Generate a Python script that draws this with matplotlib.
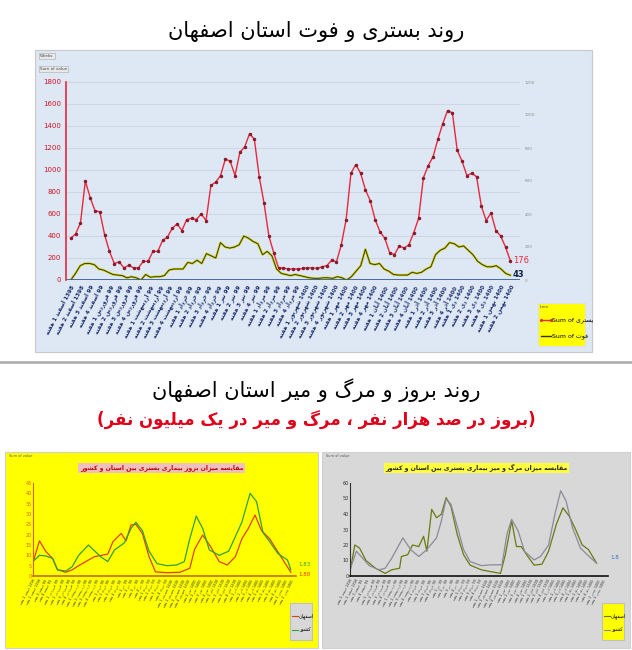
import unicodedata

import matplotlib
matplotlib.use("Agg")
import numpy as np
from matplotlib import pyplot as plt
from matplotlib.patches import Rectangle
from matplotlib.lines import Line2D

plt.rcParams["font.family"] = ["DejaVu Sans"]

W, H = 632, 650

# top chart: weekly hospitalised (red) and deaths (olive)
hosp = [380, 420, 520, 900, 750, 630, 620, 410, 260, 150, 165, 110, 135, 110, 110, 170, 170, 260,
        260, 360, 390, 470, 510, 450, 550, 560, 550, 600, 540, 860, 890, 950, 1100, 1080, 950, 1160,
        1210, 1330, 1280, 940, 700, 400, 250, 110, 110, 100, 100, 100, 105, 110, 110, 105, 120, 130,
        180, 165, 320, 550, 970, 1050, 970, 820, 720, 550, 440, 380, 250, 230, 310, 290, 320, 430,
        560, 930, 1040, 1120, 1280, 1420, 1540, 1520, 1180, 1080, 950, 970, 940, 670, 540, 610, 450,
        400, 300, 176]
deaths = [0, 60, 130, 150, 150, 140, 100, 90, 70, 50, 45, 40, 20, 30, 20, 0, 50, 25, 30, 30, 40, 90,
          100, 100, 100, 160, 150, 180, 150, 240, 220, 200, 340, 300, 290, 300, 320, 400, 380, 350,
          330, 230, 260, 220, 100, 60, 50, 40, 50, 40, 30, 20, 15, 15, 20, 20, 15, 30, 20, 0, 30, 80,
          130, 280, 150, 140, 150, 100, 80, 50, 45, 45, 45, 70, 60, 70, 100, 120, 230, 270, 290, 340,
          330, 300, 310, 270, 230, 170, 140, 120, 120, 130, 100, 60, 43]
right_ticks = [0, 200, 400, 600, 800, 1000, 1200]

# bottom left: incidence per 100k (week position 0-100, value)
inc_iran_x = [0, 2.5, 5, 7.6, 9.5, 12.7, 15.2, 17.7, 21.5, 24, 26.6, 29, 31.6, 35.4, 38, 39.9, 42.4,
              45, 48.1, 51.9, 55.7, 58.7, 60.8, 63.3, 65.8, 68.4, 72.2, 75.9, 81, 84.2, 86.7, 89.2,
              91.8, 94.9, 98.7, 100]
inc_iran = [7, 10, 9.7, 8.5, 3, 2.4, 4.5, 10, 15, 12, 9, 7, 12.6, 16, 23, 26, 22, 12, 6, 5, 5.3, 7,
            18, 29, 23, 12.6, 10, 12, 26, 40, 36, 21, 16.6, 11, 7.7, 3]
inc_isf_x = [0, 2.5, 5, 7.6, 9.5, 12.7, 15.2, 17.7, 21.5, 24, 26.6, 29, 31, 34.2, 36.1, 38, 39.9,
             42.4, 45, 47.5, 51.9, 56.9, 60.8, 62.7, 65.8, 69, 72.2, 75.3, 78.5, 81, 83.5, 86.1,
             88.6, 91.8, 94.9, 100]
inc_isf = [6.6, 17, 11.8, 8.5, 3, 1.8, 3, 5, 7.7, 9.4, 10, 10.6, 16.6, 20.6, 17, 24.7, 25, 20.6,
           9.4, 2, 1.6, 1.8, 3.7, 13, 19.8, 14, 7, 5.3, 9.4, 18, 23, 29.5, 22, 18, 11.8, 1.8]

# bottom right: deaths per million (week position 0-100, value)
mort_isf_x = [0, 1.9, 3.8, 6.3, 10.1, 13.9, 16.5, 19.6, 20.3, 22.8, 24.7, 27.2, 29.1, 30.4, 32.3,
              34.2, 36.1, 38, 39.9, 42.4, 44.9, 47.5, 51.9, 55.7, 59.5, 61.4, 63.9, 65.8, 67.7,
              70.3, 72.8, 75.9, 78.5, 81.6, 84.2, 86.7, 89.2, 91.8, 94.3, 97.5]
mort_isf = [2.8, 20, 18, 10, 5, 1.7, 4, 5, 12.6, 13.7, 20, 19, 25.6, 16, 43, 37.6, 39.8, 50.6, 45,
            26.7, 13.7, 7, 4, 2.8, 1.7, 13.7, 35.6, 19, 19, 12.6, 7, 7.6, 16, 33.5, 44, 38.5, 30,
            20, 17, 8.3]
mort_iran_x = [0, 2.5, 5, 7.6, 11.4, 13.9, 16.5, 20.9, 24, 27.2, 30.4, 34.2, 36.1, 38, 39.9, 42.4,
               44.9, 47.5, 51.9, 55.7, 60.1, 62, 63.9, 66.5, 69, 72.8, 75.3, 78.5, 81, 83.3, 85.4,
               88, 91.1, 94.9, 97.5]
mort_iran = [4, 16, 11.5, 6.7, 4, 5, 11.5, 24.6, 17, 12.6, 17, 24.6, 35.4, 49.6, 46.3, 32, 17, 9.3,
             6.7, 7.2, 7.2, 26.7, 36.5, 29, 15.9, 10.4, 12.6, 20, 39.8, 55, 48.5, 31, 18, 12, 8.3]

months = ["اسفند", "فروردین", "اردیبهشت", "خرداد", "تیر", "مرداد", "شهریور", "مهر", "آبان", "آذر", "دی", "بهمن"]
week_labels = []
for i in range(46):
    yr = "1398" if i < 2 else ("99" if i < 24 else "1400")
    week_labels.append(f"{yr} {months[(i // 4) % 12]} {i % 4 + 1} هفته")

RIGHT_JOIN = set("اآأإدذرزژوؤة")


def _form(ch, form):
    try:
        return unicodedata.lookup(unicodedata.name(ch) + " " + form + " FORM")
    except (KeyError, ValueError):
        return ch


def _is_ar(ch):
    return "\u0600" <= ch <= "\u06ff" and ch not in "،"


def fa(text):
    words = []
    for w in text.split(" "):
        out = []
        for i, ch in enumerate(w):
            if not _is_ar(ch):
                out.append(ch)
                continue
            prev = w[i - 1] if i > 0 else ""
            nxt = w[i + 1] if i + 1 < len(w) else ""
            jp = bool(prev) and _is_ar(prev) and prev not in RIGHT_JOIN
            jn = bool(nxt) and _is_ar(nxt) and ch not in RIGHT_JOIN
            form = {(True, True): "MEDIAL", (True, False): "FINAL",
                    (False, True): "INITIAL", (False, False): "ISOLATED"}[(jp, jn)]
            out.append(_form(ch, form))
        s = "".join(out)
        if any(_is_ar(c) for c in w):
            s = s[::-1].translate(str.maketrans("()", ")("))
        words.append(s)
    return " ".join(words[::-1])


fig = plt.figure(figsize=(W / 100, H / 100), dpi=100)
fig.patch.set_facecolor("white")


def box(x0, y0, x1, y1):
    return [x0 / W, 1 - y1 / H, (x1 - x0) / W, (y1 - y0) / H]


def panel(x0, y0, x1, y1, color, edge="#c8c8c8", z=-5):
    fig.add_artist(Rectangle((x0 / W, 1 - y1 / H), (x1 - x0) / W, (y1 - y0) / H,
                             transform=fig.transFigure, facecolor=color, edgecolor=edge,
                             lw=0.8, zorder=z))


def fline(x0, x1, y, color, **kw):
    fig.add_artist(Line2D([x0 / W, x1 / W], [1 - y / H] * 2, color=color, zorder=6, **kw))


# titles
fig.text(0.5, 1 - 32 / H, fa("روند بستری و فوت استان اصفهان"), ha="center", va="center", fontsize=15)
fig.add_artist(Line2D([0, 1], [1 - 362 / H] * 2, color="#b0b0b0", lw=2))
fig.text(0.5, 1 - 390 / H, fa("روند بروز و مرگ و میر استان اصفهان"), ha="center", va="center", fontsize=15)
fig.text(0.5, 1 - 420 / H, fa("(بروز در صد هزار نفر ، مرگ و میر در یک میلیون نفر)"),
         ha="center", va="center", fontsize=12, color="#e0001a", fontweight="bold")

# ---- top chart
panel(35, 50, 592, 352, "#dde8f4")
ax = fig.add_axes(box(66, 82, 520, 280))
ax.set_facecolor("none")
x_h = np.arange(len(hosp))
x_d = np.linspace(0, len(hosp) - 1, len(deaths))
ax.plot(x_h, hosp, color="#e8283c", lw=1.0, marker="o", ms=1.5, mfc="#8b1a2a", mec="#8b1a2a")
ax.plot(x_d, deaths, color="#c8c800", lw=1.6)
ax.plot(x_d, deaths, color="#303000", lw=0.6)
ax.axhline(0, color="#3a5fa0", lw=2)
ax.set_ylim(0, 1800)
ax.set_xlim(-1, len(hosp) + 1)
ax.set_yticks(range(0, 1801, 200))
ax.tick_params(axis="y", labelsize=5, colors="#d01020", length=0)
ax.grid(axis="y", color="#c8d4e4", lw=0.6)
for s in ["top", "right", "bottom"]:
    ax.spines[s].set_visible(False)
ax.spines["left"].set_color("#e8283c")
ax.spines["left"].set_linewidth(1.2)
tick_pos = np.linspace(0, len(hosp) - 1, len(week_labels))
ax.set_xticks(tick_pos)
ax.set_xticklabels([fa(l) for l in week_labels], rotation=62, ha="right", rotation_mode="anchor",
                   fontsize=4, color="#1f2f6f", fontweight="bold")
ax.tick_params(axis="x", length=0, pad=3)
ax.text(len(hosp) - 0.5, hosp[-1], str(hosp[-1]), color="#e8283c", fontsize=6, va="center")
ax.text(len(hosp) - 0.5, deaths[-1] * 1.1, str(deaths[-1]), color="#102040", fontsize=6,
        va="center", fontweight="bold")
ax2 = ax.twinx()
ax2.set_ylim(0, 1200)
ax2.set_yticks(right_ticks)
ax2.tick_params(labelsize=3, colors="#909090", length=0)
for s in ax2.spines.values():
    s.set_visible(False)
fig.text(40 / W, 1 - 57 / H, "Weeks", fontsize=3, color="#444444",
         bbox=dict(facecolor="#e8e8e8", edgecolor="#aaaaaa", pad=0.8, lw=0.4))
fig.text(40 / W, 1 - 70 / H, "Sum of value", fontsize=3, color="#444444",
         bbox=dict(facecolor="#e8e8e8", edgecolor="#aaaaaa", pad=0.8, lw=0.4))
panel(538, 303, 585, 346, "#ffff00", edge="#e0e0e0", z=5)
fig.text(540 / W, 1 - 308 / H, "Item", fontsize=3, color="#555555", zorder=6)
fline(541, 551, 320, "#e8283c", lw=1, marker="o", ms=1.2)
fig.text(552 / W, 1 - 320 / H, "Sum of " + fa("بستری"), fontsize=4.5, va="center", zorder=6)
fline(541, 551, 336, "#303000", lw=1)
fig.text(552 / W, 1 - 336 / H, "Sum of " + fa("فوت"), fontsize=4.5, va="center", zorder=6)


# ---- bottom charts
def small_chart(x0, x1, bg, title, xs1, s1, xs2, s2, c1, c2, ymax, step, tickc, lab1, lab2,
                legbg, base, labc2):
    panel(x0, 452, x1, 648, bg, edge="#d0d0d0")
    a = fig.add_axes(box(x0 + 28, 483, x1 - 22, 576))
    a.set_facecolor("none")
    a.plot(xs1, s1, color=c1, lw=0.9)
    a.plot(xs2, s2, color=c2, lw=0.9)
    a.set_ylim(0, ymax)
    a.set_xlim(0, 102)
    a.set_yticks(range(0, ymax + 1, step))
    a.tick_params(axis="y", labelsize=3.5, colors=tickc, length=0, pad=1)
    for s in ["top", "right"]:
        a.spines[s].set_visible(False)
    a.spines["bottom"].set_color(base)
    a.spines["bottom"].set_linewidth(1.2)
    a.spines["left"].set_color(tickc)
    a.set_xticks(np.linspace(0, 100, 46))
    a.set_xticklabels([fa(l) for l in week_labels], rotation=62, ha="right", rotation_mode="anchor",
                      fontsize=2.4, color="#333333")
    a.tick_params(axis="x", length=0, pad=2)
    a.text(103, s2[-1] + ymax * 0.06, lab2, color=labc2, fontsize=4, va="center")
    if lab1:
        a.text(103, s1[-1] - ymax * 0.02, lab1, color=c1, fontsize=4, va="center")
    fig.text((x0 + x1) / 2 / W, 1 - 468 / H, fa(title), ha="center", va="center", fontsize=4.5,
             color="#c00000" if bg == "#ffff00" else "#202020", fontweight="bold",
             bbox=dict(facecolor="#f0c0c0" if bg == "#ffff00" else "#ffff40", edgecolor="none", pad=1))
    fig.text((x0 + 4) / W, 1 - 457 / H, "Sum of value", fontsize=2.5, color="#555555")
    panel(x1 - 28, 603, x1 - 6, 640, legbg, edge="#c0c0c0", z=5)
    fline(x1 - 26, x1 - 20, 616, c1, lw=0.8)
    fig.text((x1 - 19) / W, 1 - 616 / H, fa("اصفهان"), fontsize=3.5, va="center", zorder=6)
    fline(x1 - 26, x1 - 20, 630, c2, lw=0.8)
    fig.text((x1 - 19) / W, 1 - 630 / H, fa("کشور"), fontsize=3.5, va="center", zorder=6)


small_chart(5, 318, "#ffff00", "مقایسه میزان بروز بیماری بستری بین استان و کشور",
            inc_isf_x, inc_isf, inc_iran_x, inc_iran, "#e04010", "#30a030", 45, 5, "#e06000",
            "1.88", "1.83", "#d8d8d8", "#c07000", "#30a030")
small_chart(322, 630, "#d8d8d8", "مقایسه میزان مرگ و میر بیماری بستری بین استان و کشور",
            mort_isf_x, mort_isf, mort_iran_x, mort_iran, "#6a7a10", "#8a8a9a", 60, 10, "#303030",
            "", "1.8", "#ffff00", "#101010", "#3070c0")

fig.savefig("out.png", dpi=100)
